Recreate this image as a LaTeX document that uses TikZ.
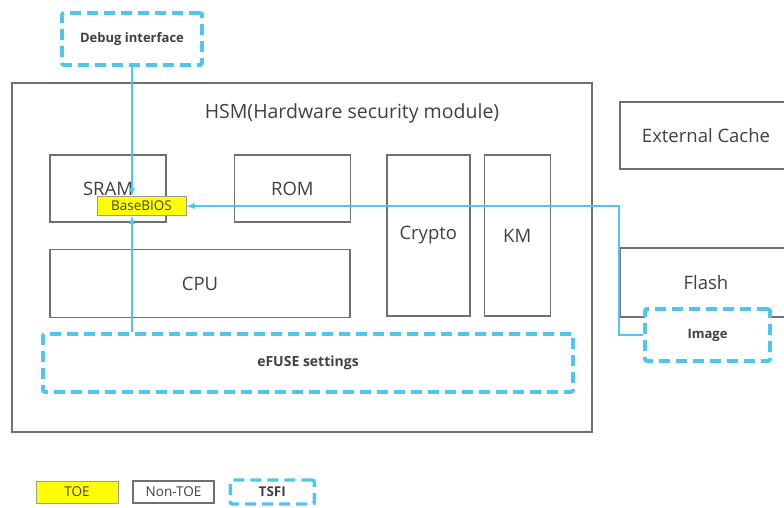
\documentclass[tikz,border=0pt]{standalone}
\usepackage{fontspec}
\setmainfont{Open Sans}
\usetikzlibrary{calc, arrows, positioning}
\definecolor{tsfiblue}{HTML}{4FC6F0}
\definecolor{boxgray}{HTML}{707070}
\definecolor{textgray}{HTML}{404040}
\definecolor{toeyellow}{HTML}{FFFF00}
\tikzset{
    boxnode/.style = {draw=boxgray, line width=1.4pt, rectangle, inner sep=0pt, text=textgray,
      font=\fontsize{18.5}{21}\selectfont},
    tsfinode/.style = {draw=tsfiblue, line width=3.8pt, dash pattern=on 11pt off 6pt, rounded corners=2pt,
      fill=white, rectangle, inner sep=0pt, text=textgray, font=\bfseries\fontsize{13}{15}\selectfont},
    toenode/.style = {draw=boxgray!70, line width=0.8pt, fill=toeyellow, rectangle, inner sep=0pt,
      text=textgray, font=\fontsize{13.5}{15}\selectfont},
    legendnode/.style = {draw=boxgray, line width=1.2pt, rectangle, inner sep=0pt, text=textgray,
      font=\fontsize{13.5}{15}\selectfont},
    textnode/.style = {draw=none, fill=none, rectangle, inner sep=0pt, text=textgray},
    connect/.style = {tsfiblue, line width=1.8pt, -latex}
}

\begin{document}
\begin{tikzpicture}[x=1pt, y=-1pt]
    \path[use as bounding box, clip] (0,0) rectangle (784,507);

    % HSM and its blocks
    \node [name=hsm, boxnode, line width=1.2pt, minimum width=580pt, minimum height=349pt] at (302,257.5) {};
    \node [name=title, textnode, font=\fontsize{19.5}{22}\selectfont] at (352,113) {HSM(Hardware security module)};

    \node [name=sram, boxnode, minimum width=116pt, minimum height=67pt] at (108,188.5) {SRAM};
    \node [name=rom, boxnode, minimum width=116pt, minimum height=67pt, right=67pt of sram] {ROM};
    \node [name=cpu, boxnode, minimum width=300pt, minimum height=68pt,
        below right=26pt and 0pt of sram.south west] {CPU};
    \node [name=crypto, boxnode, minimum width=83pt, minimum height=161pt,
        below right=0pt and 35pt of rom.north east] {Crypto};
    \node [name=km, boxnode, minimum width=66pt, minimum height=161pt, right=13pt of crypto] {KM};

    \node [name=efuse, tsfinode, font=\bfseries\fontsize{14}{16}\selectfont,
        minimum width=530pt, minimum height=58pt] at (308,363) {eFUSE settings};
    \node [name=bios, toenode, minimum width=89pt, minimum height=19pt] at (141.5,206) {BaseBIOS};

    % outside the HSM
    \node [name=debug, tsfinode, minimum width=140pt, minimum height=52pt] at (132,39) {Debug interface};
    \node [name=extcache, boxnode, minimum width=172pt, minimum height=67pt] at (706,135.5) {External Cache};
    \node [name=flash, boxnode, minimum width=172pt, minimum height=69pt] at (706,282.5) {Flash};
    \node [name=imagebox, tsfinode, minimum width=125pt, minimum height=52pt] at (707.5,335) {Image};

    \draw [connect] (debug.south) -- (debug.south |- bios.north);
    \draw [connect] (efuse.north -| debug.south) -- (debug.south |- bios.south);
    \draw [connect] (imagebox.west) -- (imagebox.west -| flash.west) |- (bios.east);

    % legend
    \node [name=toe, toenode, minimum width=82pt, minimum height=22pt] at (77,492) {TOE};
    \node [name=nontoe, legendnode, minimum width=81pt, minimum height=22pt, right=14pt of toe] {Non-TOE};
    \node [name=tsfi, tsfinode, line width=3.4pt, font=\bfseries\fontsize{13.5}{15}\selectfont,
        minimum width=84pt, minimum height=24pt, right=14pt of nontoe] {TSFI};
\end{tikzpicture}
\end{document}
